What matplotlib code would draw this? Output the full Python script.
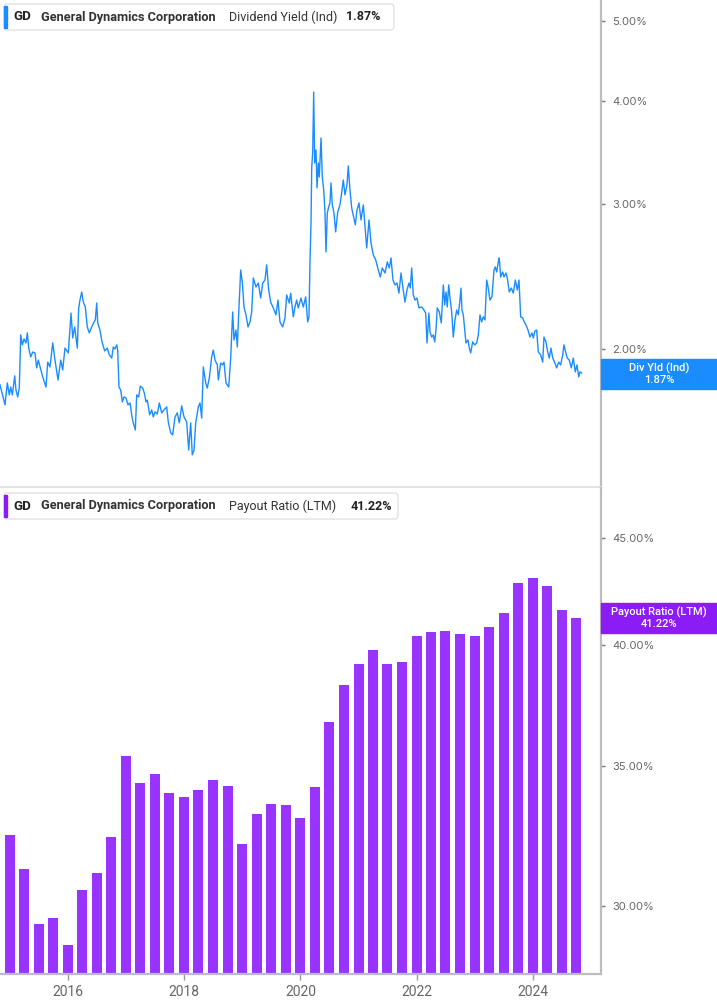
import pandas as pd
import matplotlib
matplotlib.use("Agg")
import matplotlib.pyplot as plt
from matplotlib.patches import FancyBboxPatch, Rectangle
from matplotlib.ticker import NullLocator

plt.rcParams["font.family"] = ["Roboto", "DejaVu Sans"]

# Dividend yield (Ind), %
yield_years = [
    2014.830, 2014.916, 2014.956, 2014.990, 2015.014, 2015.042, 2015.083, 2015.105, 2015.135, 2015.162,
    2015.186, 2015.214, 2015.243, 2015.277, 2015.300, 2015.324, 2015.358, 2015.393, 2015.432, 2015.461,
    2015.489, 2015.530, 2015.565, 2015.621, 2015.651, 2015.690, 2015.737, 2015.776, 2015.828, 2015.874,
    2015.909, 2015.948, 2016.005, 2016.052, 2016.081, 2016.115, 2016.160, 2016.184, 2016.206, 2016.236,
    2016.263, 2016.298, 2016.332, 2016.366, 2016.408, 2016.447, 2016.470, 2016.494, 2016.511, 2016.550,
    2016.585, 2016.631, 2016.676, 2016.710, 2016.752, 2016.779, 2016.808, 2016.838, 2016.855, 2016.877,
    2016.907, 2016.934, 2016.963, 2016.998, 2017.032, 2017.067, 2017.101, 2017.123, 2017.158, 2017.182,
    2017.216, 2017.244, 2017.285, 2017.313, 2017.342, 2017.364, 2017.405,
    2017.440, 2017.467, 2017.497, 2017.536, 2017.571, 2017.612, 2017.651, 2017.698, 2017.725, 2017.767,
    2017.801, 2017.841, 2017.880, 2017.915, 2017.956, 2017.996, 2018.042, 2018.076, 2018.111, 2018.138,
    2018.168, 2018.197, 2018.242, 2018.271, 2018.300, 2018.328, 2018.369, 2018.396, 2018.431, 2018.472,
    2018.500, 2018.529, 2018.569, 2018.586, 2018.627, 2018.661, 2018.684, 2018.718, 2018.765, 2018.799,
    2018.833, 2018.856, 2018.890, 2018.913, 2018.937, 2018.971, 2018.999, 2019.028, 2019.062, 2019.097,
    2019.131, 2019.160, 2019.188, 2019.234, 2019.274, 2019.315, 2019.350, 2019.389, 2019.418, 2019.453,
    2019.487, 2019.532, 2019.578, 2019.613, 2019.647, 2019.694, 2019.733, 2019.762, 2019.807, 2019.831, 2019.876,
    2019.905, 2019.934, 2019.962, 2020.008, 2020.048, 2020.089, 2020.124, 2020.146, 2020.163, 2020.181,
    2020.193, 2020.210, 2020.227, 2020.244, 2020.266, 2020.284, 2020.306, 2020.323, 2020.353, 2020.375,
    2020.399, 2020.421, 2020.439, 2020.461, 2020.485, 2020.507, 2020.525, 2020.547, 2020.576, 2020.605,
    2020.640, 2020.679, 2020.708, 2020.736, 2020.765, 2020.800, 2020.822, 2020.851, 2020.881, 2020.915,
    2020.943, 2020.972, 2021.006, 2021.041, 2021.081, 2021.110, 2021.139, 2021.178, 2021.213, 2021.252,
    2021.294, 2021.338, 2021.373, 2021.407, 2021.454, 2021.493, 2021.528, 2021.557, 2021.591, 2021.626,
    2021.660, 2021.694, 2021.729, 2021.763, 2021.798, 2021.832, 2021.866, 2021.889, 2021.913, 2021.940,
    2021.970, 2022.004, 2022.038, 2022.085, 2022.124, 2022.154, 2022.176, 2022.210,
    2022.228, 2022.257, 2022.285, 2022.309, 2022.331, 2022.353, 2022.388, 2022.422, 2022.457, 2022.481,
    2022.503, 2022.525, 2022.550, 2022.572, 2022.601, 2022.629, 2022.658, 2022.687, 2022.715, 2022.744,
    2022.761, 2022.778, 2022.801, 2022.825, 2022.847, 2022.882, 2022.904, 2022.928, 2022.962, 2022.997,
    2023.031, 2023.059, 2023.088, 2023.117, 2023.145, 2023.174, 2023.203, 2023.231, 2023.260, 2023.294,
    2023.329, 2023.351, 2023.375, 2023.403, 2023.420, 2023.444, 2023.479, 2023.501, 2023.535, 2023.558,
    2023.592, 2023.627, 2023.661, 2023.696, 2023.730, 2023.759, 2023.788, 2023.823, 2023.850, 2023.879,
    2023.914, 2023.948, 2023.983, 2024.005, 2024.034, 2024.063, 2024.091, 2024.132, 2024.167, 2024.189,
    2024.223, 2024.253, 2024.280, 2024.309, 2024.339, 2024.378, 2024.408, 2024.442, 2024.476, 2024.511,
    2024.533, 2024.562, 2024.590, 2024.624, 2024.659, 2024.693, 2024.728, 2024.757, 2024.786, 2024.808, 2024.838,
]
yield_values = [
    1.809, 1.711, 1.819, 1.759, 1.798, 1.759, 1.855, 1.783, 1.749, 1.793,
    2.080, 2.023, 2.057, 2.034, 2.092, 2.005, 1.956, 1.983, 1.978, 1.897,
    1.939, 1.891, 1.850, 1.798, 1.928, 1.902, 2.034, 1.939, 1.834, 1.939,
    1.886, 2.005, 1.978, 2.211, 2.063, 2.127, 2.005, 2.243, 2.293, 2.345,
    2.280, 2.249, 2.127, 2.092, 2.127, 2.157, 2.169, 2.274, 2.151, 2.109,
    2.040, 1.989, 2.005, 1.967, 1.950, 2.011, 2.000, 2.023, 1.994, 1.798,
    1.783, 1.725, 1.749, 1.744, 1.711, 1.720, 1.654, 1.627, 1.595, 1.759,
    1.749, 1.803, 1.793, 1.768, 1.725, 1.734, 1.664,
    1.687, 1.654, 1.678, 1.668, 1.720, 1.673, 1.687, 1.701, 1.631, 1.582,
    1.573, 1.654, 1.673, 1.627, 1.706, 1.654, 1.631, 1.508, 1.627, 1.488,
    1.508, 1.627, 1.701, 1.720, 1.649, 1.902, 1.819, 1.793, 1.844, 1.956,
    1.994, 1.939, 1.913, 1.834, 1.923, 1.913, 1.928, 1.819, 1.798, 1.950,
    2.218, 2.051, 2.109, 2.011, 2.211, 2.494, 2.412, 2.249, 2.200, 2.127,
    2.157, 2.218, 2.439, 2.378, 2.405, 2.306, 2.405, 2.425, 2.530, 2.358,
    2.280, 2.243, 2.200, 2.293, 2.157, 2.127, 2.181, 2.326, 2.274, 2.338, 2.188,
    2.249, 2.293, 2.243, 2.306, 2.249, 2.313, 2.157, 2.188, 2.551, 2.844,
    3.317, 3.469, 4.100, 3.363, 3.488, 3.137, 3.363, 3.234, 3.606, 3.234,
    3.119, 2.933, 2.623, 2.925, 2.974, 3.008, 3.181, 2.991, 2.925, 2.774,
    2.933, 2.991, 3.093, 3.207, 3.076, 3.163, 3.335, 3.119, 2.966, 2.892,
    2.829, 2.949, 3.008, 2.868, 2.991, 2.813, 2.652, 2.868, 2.690, 2.601,
    2.565, 2.494, 2.446, 2.508, 2.473, 2.551, 2.508, 2.579, 2.425, 2.392,
    2.405, 2.338, 2.473, 2.371, 2.280, 2.358, 2.405, 2.371, 2.508, 2.326,
    2.293, 2.306, 2.243, 2.249, 2.230, 2.211, 2.034, 2.211,
    2.097, 2.068, 2.080, 2.040, 2.109, 2.243, 2.218, 2.151, 2.392, 2.262,
    2.345, 2.249, 2.392, 2.306, 2.218, 2.068, 2.169, 2.230, 2.200, 2.293,
    2.371, 2.230, 2.200, 2.109, 2.034, 2.051, 2.005, 1.978, 2.040, 2.023,
    2.034, 2.080, 2.200, 2.157, 2.188, 2.169, 2.425, 2.371, 2.293, 2.313,
    2.494, 2.515, 2.480, 2.551, 2.579, 2.446, 2.480, 2.446, 2.473, 2.439,
    2.345, 2.371, 2.338, 2.425, 2.358, 2.425, 2.188, 2.181, 2.157, 2.139,
    2.109, 2.068, 2.092, 2.063, 2.103, 2.109, 1.983, 1.967, 1.928, 2.068,
    2.040, 1.983, 1.950, 2.005, 1.950, 1.923, 1.897, 1.928, 1.913, 1.967,
    2.023, 1.983, 1.950, 1.939, 1.897, 1.950, 1.876, 1.913, 1.850, 1.876, 1.870,
]

# Payout ratio (LTM), %, one bar per quarter end
quarter_ends = [
    "2014-12-31", "2015-03-31", "2015-06-30", "2015-09-30", "2015-12-31",
    "2016-03-31", "2016-06-30", "2016-09-30", "2016-12-31", "2017-03-31",
    "2017-06-30", "2017-09-30", "2017-12-31", "2018-03-31", "2018-06-30",
    "2018-09-30", "2018-12-31", "2019-03-31", "2019-06-30", "2019-09-30",
    "2019-12-31", "2020-03-31", "2020-06-30", "2020-09-30", "2020-12-31",
    "2021-03-31", "2021-06-30", "2021-09-30", "2021-12-31", "2022-03-31",
    "2022-06-30", "2022-09-30", "2022-12-31", "2023-03-31", "2023-06-30",
    "2023-09-30", "2023-12-31", "2024-03-31", "2024-06-30", "2024-09-30",
]
payout_ratio = [
    32.44, 31.25, 29.41, 29.61, 28.74, 30.53, 31.11, 32.37, 35.39, 34.36,
    34.70, 33.98, 33.83, 34.09, 34.47, 34.24, 32.12, 33.20, 33.57, 33.53,
    33.05, 34.20, 36.74, 38.27, 39.17, 39.78, 39.17, 39.25, 40.40, 40.57,
    40.62, 40.48, 40.40, 40.80, 41.43, 42.82, 43.06, 42.68, 41.57, 41.22,
]

yield_ticks = [2.0, 3.0, 4.0, 5.0]
payout_ticks = [30.0, 35.0, 40.0, 45.0]
year_ticks = [2016, 2018, 2020, 2022, 2024]

last_yield = "1.87%"
last_payout = "41.22%"

BLUE = "#1a8cff"
PURPLE = "#9933ff"
PURPLE_DARK = "#8c1cf5"
AXIS = "#bdbdbd"
TICKTXT = "#666666"

W, H = 717, 1005


def fx(px):
    return px / W


def fy(py):
    return 1 - py / H


d = pd.to_datetime(quarter_ends)
bar_x = d.year + (d.dayofyear - 1) / 365.25

fig = plt.figure(figsize=(W / 100, H / 100), dpi=100)
ax1 = fig.add_axes([0, fy(487), fx(601), 487 / H])
ax2 = fig.add_axes([0, fy(974), fx(601), (974 - 488) / H])

xlim = (2014.830, 2025.170)

# top: dividend yield line
ax1.plot(yield_years, yield_values, color=BLUE, lw=1.0)
ax1.set_yscale("log")
ax1.set_ylim(1.360, 5.303)
ax1.set_xlim(*xlim)

# bottom: payout ratio bars (bars start at 0, clipped by the log axis)
ax2.bar(bar_x, payout_ratio, width=0.172, color=PURPLE)
ax2.set_yscale("log")
ax2.set_ylim(27.83, 47.55)
ax2.set_xlim(*xlim)

for ax, ticks in ((ax1, yield_ticks), (ax2, payout_ticks)):
    ax.yaxis.tick_right()
    ax.set_yticks(ticks)
    ax.set_yticklabels([f"{t:.2f}%" for t in ticks], family=["Inter", "DejaVu Sans"])
    ax.yaxis.set_minor_locator(NullLocator())
    ax.tick_params(axis="y", which="major", length=3, width=1, color="#777777",
                   labelsize=8, labelcolor=TICKTXT, pad=5)
    ax.spines["top"].set_visible(False)
    ax.spines["left"].set_visible(False)
    ax.spines["right"].set_color(AXIS)
    ax.spines["right"].set_linewidth(1.6)

ax1.set_xticks([])
ax1.xaxis.set_minor_locator(NullLocator())
ax1.spines["bottom"].set_color("#e4e4e4")
ax1.spines["bottom"].set_linewidth(1.5)

ax2.set_xticks(year_ticks)
ax2.set_xticklabels([str(y) for y in year_ticks])
ax2.xaxis.set_minor_locator(NullLocator())
ax2.tick_params(axis="x", length=4, width=1, color="#999999", labelsize=10,
                labelcolor=TICKTXT, pad=4)
ax2.spines["bottom"].set_color(AXIS)
ax2.spines["bottom"].set_linewidth(1.6)


# header boxes
def header(top, width, accent, metric, value, xs):
    box = FancyBboxPatch((fx(4), fy(top + 26)), fx(width), 26 / H,
                         boxstyle="round,pad=0,rounding_size=0.004",
                         transform=fig.transFigure, fc="white", ec="#e2e2e2", lw=1)
    fig.patches.append(box)
    fig.patches.append(Rectangle((fx(4), fy(top + 24)), fx(3), 22 / H,
                                 transform=fig.transFigure, color=accent))
    yc = fy(top + 13)
    fig.text(fx(13), yc, "GD", fontsize=9.5, weight="bold", color="#222222", va="center")
    fig.text(fx(41), yc, "General Dynamics Corporation", fontsize=9.2, weight="semibold",
             color="#333333", va="center")
    fig.text(fx(xs[0]), yc, metric, fontsize=9, color="#333333", va="center")
    fig.text(fx(xs[1]), yc, value, fontsize=9, weight="bold", color="#222222", va="center")


header(4, 390, BLUE, "Dividend Yield (Ind)", last_yield, (229, 346))
header(493, 394, PURPLE_DARK, "Payout Ratio (LTM)", last_payout, (229, 351))


# last value tags on the right axis
def tag(top, color, name, value):
    fig.patches.append(Rectangle((fx(601), fy(top + 30)), fx(116), 30 / H,
                                 transform=fig.transFigure, color=color))
    fig.text(fx(659), fy(top + 9), name, fontsize=8, color="white", ha="center",
             va="center", weight="medium")
    fig.text(fx(659), fy(top + 21), value, fontsize=8, color="white", ha="center",
             va="center", weight="medium")


tag(359, BLUE, "Div Yld (Ind)", last_yield)
tag(603, PURPLE_DARK, "Payout Ratio (LTM)", last_payout)

fig.savefig("out.png", dpi=100, facecolor="white")
